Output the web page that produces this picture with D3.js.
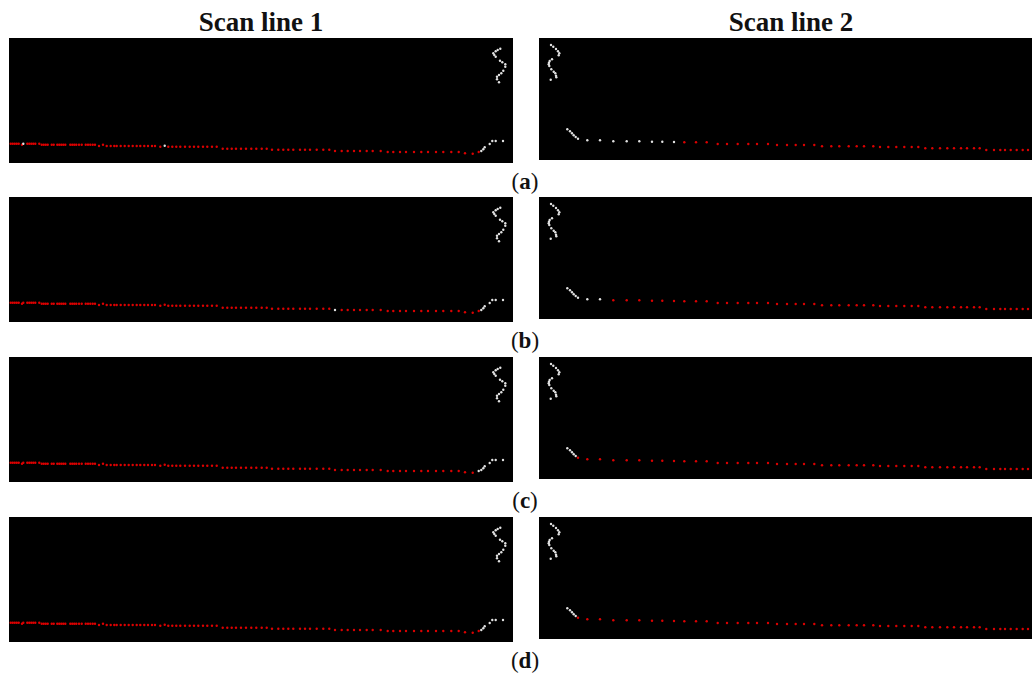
<!DOCTYPE html>
<meta charset="utf-8">
<head>
    <style>
        body{
            margin: 0;
            background-color: white;
        }
        text{
            font-family: "Palatino Linotype", "Book Antiqua", Palatino, "Liberation Serif", serif;
            fill: #111;
        }
    </style>
</head>
<body>
<div id="scans"></div>

<script src="https://d3js.org/d3.v7.min.js"></script>
<script>

    // row labels and column titles
    const rowLabels = ["a", "b", "c", "d"];
    const colTitles = ["Scan line 1", "Scan line 2"];

    // scan line 1: ground line + rising curb at the right end, [x, y] in panel units
    const scan1Lower = [
        [1.7,105.7],[3.7,105.7],[5.7,105.7],[7.7,105.7],[9.7,105.7],[13,106.7],[14.3,105.7],[18.3,105.7],
        [20.3,105.7],[22.3,105.7],[24.3,105.7],[26.3,105.7],[30.3,105.7],
        [32.7,106.7],[34.7,106.7],[36.7,106.7],[38.7,106.7],[42.7,106.7],[44.7,106.7],[48.3,106.7],[50.3,106.7],
        [52.3,106.7],[54.3,106.7],[56.3,106.7],[61.3,106.7],[63.3,106.7],[65.3,106.7],[67.3,106.7],[70,106.7],
        [72.7,106.7],[76.7,106.7],[79,106.7],[81.3,106.7],[83.7,106.7],[86,106.7],
        [90,108],[94,106.7],
        [97.7,108],[101.7,108],[105.3,108],[107.7,108],[111.7,108],[115.7,108],[119.7,108],[123.7,108],
        [127.7,108],[131.3,108],[135.3,108],[139,108],[143,108],[146,108],
        [151.3,108.7],[155.7,107.7],
        [159.3,108.7],[163.3,108.7],[167.3,108.7],[171.3,108.7],[176,108.7],[180.7,108.7],[185,108.7],
        [189.3,108.7],[194,108.7],[198.3,108.7],[203,108.7],[207.7,108.7],
        [213.7,110.7],[218.3,110.7],[222.7,110.7],[227,110.7],[232,110.7],[237,110.7],[242.3,110.7],
        [247.3,110.7],[252.7,110.7],[257.7,110.7],
        [263,111.7],[269.3,111.7],[274.3,111.7],[279.3,111.7],[284.3,111.7],[291,111.7],[296,111.7],
        [301,111.7],[307.7,111.7],[314.3,111.7],[320.3,111.7],
        [326,113],[332.7,113],[338.7,113],[345,113],[351,113],[357.7,113],[363.7,113],[371.7,113],
        [378.7,114],[384.3,114],[391,114],[397,114],[405,114],[412.3,114],[419,114],[427,114],
        [434.3,114],[442.3,114],[449.7,114],
        [456,115.3],[463.7,115.7],[469.7,114],
        [472.3,113],[474.3,111.3],[475.7,109.3],[480.7,106],[483.3,103],[486.7,103],[494,103]
    ];
    // scan line 1: wall points top right
    const scan1Wall = [
        [491.3,10.7],[488.7,12],[486.7,13.3],[484.3,15.3],[485.3,17],[486.7,18.7],[491,22.7],[493.3,24.3],
        [496.3,26.3],[496.3,28.7],[494.3,32.7],[492.3,35.3],[490,37],[488,38.7],[488,41.3],[490,44.3]
    ];
    // per row: where the non-ground part starts, plus stray non-ground points (by x)
    const scan1CurbStart = [471, 471, 469, 471];
    const scan1Stray = [[14.3, 155.7], [326], [], []];

    // scan line 2: wall top left
    const scan2Wall = [
        [12,7],[14.3,8.7],[17,11],[19,13.3],[20.3,15.3],[19.7,17.3],[13,21.3],[10.7,23],[10,24.7],
        [9.7,26.3],[10.3,28],[12.3,31.3],[14.7,33.7],[16.3,35.3],[17,37.7],[17.3,39.3],[11.7,41.7]
    ];
    // scan line 2: curve + ground line
    const scan2Lower = [
        [28.3,91.3],[31,93.3],[33,95.3],[34.7,97.3],[36.7,99],[39,100.7],[48.3,102.3],[61,102.3],
        [74.3,103.3],[87.7,103.3],[100.3,103.3],[113,103.7],[123.3,103.7],[135,104],
        [145.3,104.3],[157,104.3],[167.7,104.3],
        [178.7,106],[188,106],[198.7,106],[209.3,106],[218,106],[229,106],
        [238,107],[248,107],[256.7,107],[265,107],[275.3,107],
        [283,108.3],[292.3,108.3],[300.3,108.3],[309.7,108.3],[317.7,108.3],[325,108.3],[334.3,108.3],
        [341,109],[349.3,109],[357.3,109],[365.3,109],[372.7,109],[379.3,109],
        [386.3,110.3],[393.3,110.3],[401,110.3],[408.3,110.3],[415,110.3],[422,110.3],[428,110.3],
        [435,110.3],[440.7,110.3],
        [447.3,112],[455,112],[461.3,112],[466,112],[471.7,112],[477.7,112],[483.7,112],[489,112],
        [495,112],[501,112]
    ];
    // per row: ground (red) starts at this x
    const scan2GroundStart = [140, 70, 38, 38];

    const W = 1032, H = 674;
    const rowTop = [38, 197, 357, 517];
    const panelW = 504;
    const left1 = 9, left2 = 539;
    const h1 = 125, h2 = 122;
    const red = "#dd0000", white = "#e2e2e2";

    const svg = d3.select("#scans")
        .append("svg")
        .attr("width", W)
        .attr("height", H)
        .style("display", "block");

    svg.append("rect").attr("width", W).attr("height", H).attr("fill", "white");

    // column titles
    svg.selectAll(".coltitle")
        .data(colTitles)
        .join("text")
        .attr("class", "coltitle")
        .attr("x", (d, i) => (i === 0 ? left1 : left2) + panelW / 2)
        .attr("y", 31)
        .attr("text-anchor", "middle")
        .style("font-size", "27px")
        .style("font-weight", "bold")
        .text(d => d);

    // panel scales (panel units -> pixels)
    const x = d3.scaleLinear().domain([0, 504]).range([0, panelW]);
    const y1 = d3.scaleLinear().domain([0, 125]).range([0, h1]);
    const y2 = d3.scaleLinear().domain([0, 122]).range([0, h2]);

    function dots(g, data, ys, colorFn) {
        g.selectAll("circle")
            .data(data)
            .join("circle")
            .attr("cx", d => x(d[0]))
            .attr("cy", d => ys(d[1]))
            .attr("r", 1.2)
            .attr("fill", colorFn);
    }

    rowLabels.forEach(function(lab, r) {
        // scan line 1
        const g1 = svg.append("g").attr("transform", `translate(${left1},${rowTop[r]})`);
        g1.append("rect").attr("width", panelW).attr("height", h1).attr("fill", "black");
        dots(g1.append("g"), scan1Wall, y1, () => white);
        dots(g1.append("g"), scan1Lower, y1, function(d) {
            if (d[0] >= scan1CurbStart[r]) return white;
            if (scan1Stray[r].some(s => Math.abs(s - d[0]) < 0.5)) return white;
            return red;
        });

        // scan line 2
        const g2 = svg.append("g").attr("transform", `translate(${left2},${rowTop[r]})`);
        g2.append("rect").attr("width", panelW).attr("height", h2).attr("fill", "black");
        dots(g2.append("g"), scan2Wall, y2, () => white);
        dots(g2.append("g"), scan2Lower, y2, d => d[0] >= scan2GroundStart[r] ? red : white);

        // (a), (b) ...
        const t = svg.append("text")
            .attr("x", 525)
            .attr("y", rowTop[r] + 151)
            .attr("text-anchor", "middle")
            .style("font-size", "23px");
        t.append("tspan").text("(");
        t.append("tspan").style("font-weight", "bold").text(lab);
        t.append("tspan").text(")");
    });

</script>
</body>
